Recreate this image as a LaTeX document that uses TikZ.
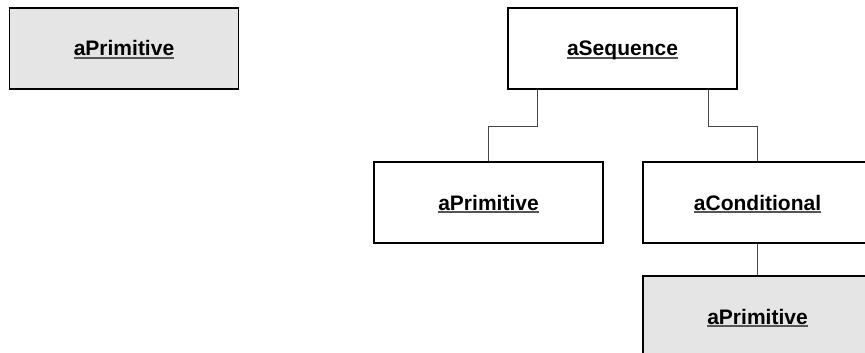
\documentclass[tikz,border=0pt]{standalone}
\usepackage{fontspec}
\setmainfont{Liberation Sans}
\definecolor{boxgray}{RGB}{229,229,229}
\definecolor{ulgray}{RGB}{85,85,85}
\definecolor{linkgray}{RGB}{70,70,70}
% bold text with a thick grey underline
\newcommand\objname[1]{\setbox0\hbox{\bfseries #1}%
  \rlap{\color{ulgray}\rule[-2.9pt]{\wd0}{1.9pt}}\box0}
\tikzset{
  obj/.style={draw=black, line width=1.4pt, fill=white, minimum width=229pt,
    minimum height=81pt, inner sep=0pt, text height=15.5pt, text depth=0.5pt,
    font=\fontsize{21}{25}\selectfont},
  objgray/.style={obj, fill=boxgray},
  link/.style={draw=linkgray, line width=0.9pt}
}
\begin{document}
\begin{tikzpicture}[x=1pt, y=-1pt]
  \useasboundingbox (0,0) rectangle (865,353);
  \clip (0,0) rectangle (865,353);
  \node[objgray] (solo) at (124,48.5) {\objname{aPrimitive}};
  \node[obj] (seq) at (622.5,48.5) {\objname{aSequence}};
  \node[obj] (prim) at (488.5,202.5) {\objname{aPrimitive}};
  \node[obj] (cond) at (757.5,202.5) {\objname{aConditional}};
  \node[objgray] (leaf) at (757.5,316.5) {\objname{aPrimitive}};
  \draw[link] ([xshift=-85.5pt]seq.south) -- ++(0,37) -| (prim.north);
  \draw[link] ([xshift=85.5pt]seq.south) -- ++(0,37) -| (cond.north);
  \draw[link] (cond.south) -- (leaf.north);
\end{tikzpicture}
\end{document}
